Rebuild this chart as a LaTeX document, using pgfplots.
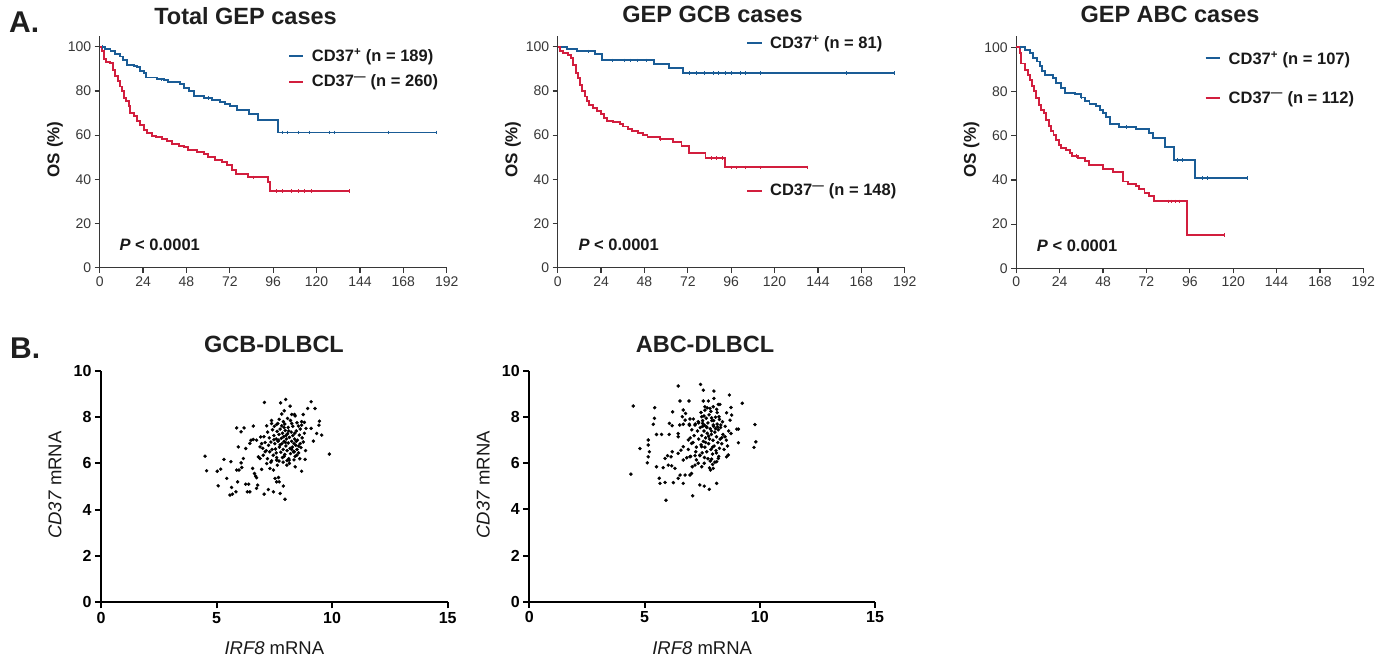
\documentclass[border=0pt]{standalone}
\usepackage{fontspec}
\setmainfont{Liberation Sans}
\usepackage{pgfplots}
\pgfplotsset{compat=1.18}
\definecolor{kmblue}{RGB}{26,92,150}
\definecolor{kmred}{RGB}{210,30,62}
\definecolor{axgray}{RGB}{55,55,55}
\pgfplotsset{
 km/.style={
  scale only axis, width=347pt, height=232pt, anchor=south west,
  xmin=0,xmax=192,ymin=0,ymax=105,
  axis lines=left, axis line style={-, line width=1.2pt, draw=axgray},
  xtick={0,24,...,192}, ytick={0,20,...,100},
  tick align=outside, major tick length=5pt,
  tick style={line width=1.2pt, draw=axgray},
  ticklabel style={font=\fontsize{14}{16}\selectfont, text=axgray},
  xticklabel style={anchor=north, text height=10pt, text depth=0pt},
  /pgf/number format/assume math mode=true,
  clip=false,
  ylabel={OS (\%)},
  ylabel style={font=\fontsize{17}{20}\selectfont\bfseries, text=black!90, at={(axis description cs:-0.129,0.51)}, anchor=center},
 },
 sc/.style={
  scale only axis, anchor=south west,
  xmin=0,xmax=15,ymin=0,ymax=10,
  axis lines=left, axis line style={-, line width=2pt, black},
  xtick={0,5,10,15}, ytick={0,2,...,10},
  tick align=outside, major tick length=6pt,
  tick style={line width=2pt, black},
  ticklabel style={font=\fontsize{16}{18}\selectfont\bfseries},
  xticklabel style={anchor=north, text height=11.5pt, text depth=0pt},
  /pgf/number format/assume math mode=true,
  clip=false,
  xlabel={\textit{IRF8} mRNA}, ylabel={\textit{CD37} mRNA},
  label style={font=\fontsize{18.5}{22}\selectfont, text=black!90},
  xlabel style={at={(axis description cs:0.5,-0.2)}, anchor=center},
  ylabel style={at={(axis description cs:-0.133,0.506)}, anchor=center},
 },
 kmline/.style={const plot, line width=1.9pt, mark=none},
 cens/.style={only marks, mark=|, mark size=1.8pt, mark options={line width=0.8pt}},
 dots/.style={only marks, mark=*, mark size=1.55pt, black},
}
\newcommand{\legfont}{\fontsize{16.5}{19}\selectfont\bfseries}
\begin{document}
\begin{tikzpicture}
\path[use as bounding box] (0,0) rectangle (1383pt,-663pt);

% ---------- A1 Total GEP ----------
\begin{axis}[km, at={(99.7pt,-267.7pt)}]
\addplot[kmline, kmblue] coordinates {(0,100)(3,99)(6,97.9)(8.7,96.7)(11.4,95.6)(12.9,94.1)(15.1,91.9)(18.8,91.4)(20.6,90.7)(22.5,89.1)(24.3,88.1)(25.8,86.1)(31.7,85.5)(35.4,85.1)(37.6,83.9)(44.6,83.1)(46.5,81.3)(49.2,80.1)(52,77.8)(57.5,76.8)(62.2,75.7)(66.8,75)(69.5,74.1)(72.3,73)(76,71.5)(82.4,69.5)(87.6,66.7)(98.7,61.2)(186.5,61.2)};
\addplot[kmline, kmred] coordinates {(0,100)(1.3,97.9)(2.6,94.6)(3.7,93.3)(5.9,92.6)(7.2,89.6)(8.7,86.6)(10.1,84.3)(11.4,82)(12.3,79.8)(13.3,76.8)(14.7,75.3)(16,73)(17,70)(18.8,68.5)(20.6,66.5)(22.5,64.4)(24.3,62.4)(26.2,60.9)(28.9,59.8)(31.3,59)(34.5,58.2)(37.2,57.2)(40,56)(43.7,55.2)(46.8,54.6)(48.7,53.1)(53.9,52.2)(57.5,51.4)(59.8,49.9)(64,48.9)(67.7,47.8)(70.5,46.6)(73.2,44.3)(75.6,42.4)(81.9,40.9)(93,38.8)(94.4,34.6)(138,34.6)};
\addplot[cens, kmblue] coordinates {(1.5,100)(34,85.1)(60,76.8)(101,61.2)(104,61.2)(110,61.2)(116,61.2)(127,61.2)(130,61.2)(160,61.2)(186.5,61.2)};
\addplot[cens, kmred] coordinates {(85,40.9)(98,34.6)(101,34.6)(106,34.6)(110,34.6)(113,34.6)(117,34.6)(138,34.6)};
\node[anchor=west, inner sep=0, font=\fontsize{16.5}{19}\selectfont\bfseries, text=black!90] at (axis cs:10.9,10.3) {\textit{P} < 0.0001};
\draw[kmblue, line width=1.9pt] (axis cs:104.9,95.8) -- (axis cs:112.7,95.8);
\draw[kmred, line width=1.9pt] (axis cs:104.9,84.2) -- (axis cs:112.7,84.2);
\node[anchor=west, inner sep=0, font=\legfont, text=black!90] at (axis cs:117.3,95.3) {CD37\textsuperscript{+} (n = 189)};
\node[anchor=west, inner sep=0, font=\legfont, text=black!90] at (axis cs:117.3,83.9) {CD37\textsuperscript{—} (n = 260)};
\end{axis}

% ---------- A2 GEP GCB ----------
\begin{axis}[km, at={(557.7pt,-267.7pt)}]
\addplot[kmline, kmblue] coordinates {(0,100)(5,98.9)(10.5,97.9)(20.6,96.7)(24.3,93.8)(53.4,92.3)(61.5,90.3)(69.4,88)(186.5,88)};
\addplot[kmline, kmred] coordinates {(0,100)(1.3,97.9)(3.1,97.1)(5.9,96.4)(7.3,94.9)(8.6,91.9)(9.9,88.1)(11,85.8)(12.3,82.8)(13.6,79.8)(15.1,77.5)(16.4,75.3)(17.5,73.8)(19.7,72.2)(21.5,71)(23.9,69.5)(25.8,67.7)(27.1,66.5)(30.7,65.8)(34.4,65)(36.3,63.9)(38.7,62.9)(40.9,62)(44.2,60.9)(47.3,59.9)(49.7,59.1)(56.5,58.2)(63.9,56.7)(68.5,54.9)(72.8,51.9)(81.8,49.6)(92.8,45.4)(138,45.4)};
\addplot[cens, kmblue] coordinates {(17,97.9)(30,93.8)(37,93.8)(40,93.8)(44,93.8)(49,93.8)(73,88)(77,88)(81,88)(86,88)(89,88)(93,88)(96,88)(101,88)(104,88)(112,88)(160,88)(186.5,88)};
\addplot[cens, kmred] coordinates {(57,58.2)(85,49.6)(88,49.6)(91,49.6)(96,45.4)(99,45.4)(104,45.4)(112,45.4)(138,45.4)};
\node[anchor=west, inner sep=0, font=\fontsize{16.5}{19}\selectfont\bfseries, text=black!90] at (axis cs:11.4,10.3) {\textit{P} < 0.0001};
\draw[kmblue, line width=1.9pt] (axis cs:104.8,101.8) -- (axis cs:112.8,101.8);
\draw[kmred, line width=1.9pt] (axis cs:104.8,34.8) -- (axis cs:112.8,34.8);
\node[anchor=west, inner sep=0, font=\legfont, text=black!90] at (axis cs:117.4,101.2) {CD37\textsuperscript{+} (n = 81)};
\node[anchor=west, inner sep=0, font=\legfont, text=black!90] at (axis cs:117.4,34.5) {CD37\textsuperscript{—} (n = 148)};
\end{axis}

% ---------- A3 GEP ABC ----------
\begin{axis}[km, at={(1016.3pt,-268.3pt)}]
\addplot[kmline, kmblue] coordinates {(0,100)(4.6,98.9)(7.4,97.4)(9.2,95.1)(11.4,93.6)(12.9,91.4)(14.4,89.1)(15.7,87.3)(20.3,86.3)(22.1,83.8)(24.9,81.4)(26.7,79.3)(32.3,78.9)(35.9,77.3)(37.8,75.8)(40.5,74.3)(44.2,73.6)(46.4,71.8)(48.2,70.3)(49.7,68.3)(51.6,65.4)(56.7,63.9)(66.3,63.1)(73.6,61.4)(75.5,59)(82.5,55.1)(87.1,49.1)(98.9,40.9)(128,40.9)};
\addplot[kmline, kmred] coordinates {(0,100)(1.9,97.4)(2.8,92.7)(4.6,89.8)(6.5,87.5)(7.7,85.3)(8.9,82.4)(9.8,80.1)(11.1,77.1)(12.5,74)(13.8,71.8)(15.1,70.3)(16.6,67.3)(18.1,64.3)(19.3,62)(20.6,60.5)(22.1,58.2)(23.4,56)(24.9,54.4)(27.3,53.7)(29.5,52.2)(30.9,50.7)(34.1,49.9)(37.8,48.4)(40.1,46.6)(47.9,45.1)(53.4,43.6)(58.9,39.3)(61.7,38.3)(66.3,37.1)(68.1,36)(70.9,34.1)(73.6,32.6)(76.4,30.3)(94.3,15.2)(115,15.2)};
\addplot[cens, kmblue] coordinates {(2,100)(36,77.3)(61,63.9)(89,49.1)(92,49.1)(103,40.9)(106,40.9)(128,40.9)};
\addplot[cens, kmred] coordinates {(33,50.7)(84,30.3)(86,30.3)(88,30.3)(90,30.3)(115,15.2)};
\node[anchor=west, inner sep=0, font=\fontsize{16.5}{19}\selectfont\bfseries, text=black!90] at (axis cs:11.3,10.1) {\textit{P} < 0.0001};
\draw[kmblue, line width=1.9pt] (axis cs:104.7,95) -- (axis cs:112.8,95);
\draw[kmred, line width=1.9pt] (axis cs:104.7,77.2) -- (axis cs:112.8,77.2);
\node[anchor=west, inner sep=0, font=\legfont, text=black!90] at (axis cs:117.4,94.5) {CD37\textsuperscript{+} (n = 107)};
\node[anchor=west, inner sep=0, font=\legfont, text=black!90] at (axis cs:117.4,76.7) {CD37\textsuperscript{—} (n = 112)};
\end{axis}

% ---------- B1 GCB-DLBCL ----------
\begin{axis}[sc, width=346.7pt, height=231.6pt, at={(101pt,-602.3pt)}]
\addplot[dots] table {
x y
7.07 8.63
7.99 8.76
7.77 8.61
8.18 8.47
9.09 8.66
8.94 8.37
9.26 8.37
7.93 8.27
7.82 8.13
8.25 8.11
8.37 8.11
8.75 8.11
8.07 7.94
7.71 7.90
7.89 7.80
8.25 7.72
8.68 7.80
8.80 7.77
9.45 7.82
9.43 7.65
5.87 7.53
6.19 7.53
6.06 7.36
6.59 7.61
7.17 7.62
7.38 7.72
7.60 7.68
8.54 7.61
8.87 7.51
9.09 7.51
9.33 7.29
9.55 7.22
9.19 6.96
9.88 6.40
4.50 6.31
4.57 5.68
5.03 5.66
5.18 5.75
5.32 6.17
5.44 5.35
5.07 5.03
5.62 6.07
5.65 4.96
5.58 4.63
5.69 4.67
5.84 4.77
5.91 5.20
5.87 5.71
5.97 5.71
6.09 5.82
6.06 6.02
6.16 6.21
5.94 6.71
6.26 6.64
6.33 4.77
6.44 4.77
6.26 5.10
6.39 5.10
6.44 6.86
6.49 7.00
6.59 7.03
6.73 7.00
6.56 5.78
6.64 5.56
6.69 5.45
6.73 5.38
6.78 5.06
6.73 4.92
6.91 7.14
6.88 6.71
6.81 6.28
6.88 6.21
7.02 6.35
7.10 6.50
7.06 4.67
7.24 4.87
7.46 4.77
7.75 4.70
7.96 4.45
7.53 5.35
7.68 5.39
7.60 5.20
7.71 5.20
7.89 5.02
7.31 5.78
7.46 5.71
7.17 5.99
7.38 6.11
7.60 6.14
7.63 5.92
6.95 5.74
8.04 5.92
8.14 6.14
8.40 5.85
8.68 5.66
8.83 6.17
8.47 6.35
8.36 6.50
7.21 7.35
7.28 7.10
7.35 6.92
7.42 7.45
7.48 7.20
7.52 6.85
7.55 6.62
7.58 7.05
7.62 7.38
7.66 6.95
7.70 7.25
7.72 6.70
7.75 7.48
7.78 6.48
7.80 7.08
7.83 6.85
7.85 7.30
7.88 6.60
7.90 7.15
7.92 6.95
7.95 6.38
7.97 7.42
8.00 6.75
8.02 7.05
8.05 6.55
8.07 7.28
8.10 6.88
8.12 6.20
8.15 7.12
8.18 6.65
8.20 6.42
8.23 7.35
8.25 6.95
8.28 6.70
8.30 7.20
8.33 6.50
8.35 6.85
8.38 7.05
8.40 6.30
8.43 6.78
8.45 7.40
8.48 6.60
8.50 7.00
8.55 6.45
8.58 7.22
8.62 6.85
8.65 6.68
8.70 7.10
8.75 6.92
8.80 7.30
8.85 6.55
7.40 6.60
7.45 6.35
7.30 6.50
7.25 6.78
7.15 6.55
7.10 6.90
7.05 7.15
7.00 6.65
6.95 6.85
7.60 6.25
7.70 6.10
7.88 6.05
8.05 6.12
7.82 7.62
7.95 7.70
8.10 7.55
8.30 7.60
8.48 7.75
8.62 7.48
7.65 7.72
7.50 7.60
8.20 7.85
8.40 8.05
7.38 7.85
7.92 6.30
8.15 6.00
8.35 6.15
8.60 6.20
7.20 6.20
7.35 6.05
8.00 7.20
7.75 6.80
8.25 6.60
7.58 6.45
8.45 6.95
8.68 7.65
7.98 6.90
7.68 7.00
8.12 7.40
7.85 6.25
8.38 7.30
8.55 6.75
7.48 7.02
7.92 7.55
};
\end{axis}

% ---------- B2 ABC-DLBCL ----------
\begin{axis}[sc, width=345.7pt, height=230.7pt, at={(529.3pt,-601.7pt)}]
\addplot[dots] table {
x y
6.46 9.35
7.43 9.42
7.55 9.17
8.01 9.13
8.68 8.96
9.24 8.60
4.51 8.48
5.44 8.41
6.54 8.70
6.93 8.70
7.55 8.70
7.77 8.70
8.01 8.81
8.27 8.55
8.75 8.42
7.62 8.45
7.84 8.38
8.13 8.34
6.22 8.23
6.68 8.31
6.78 8.16
5.43 7.95
5.38 7.69
6.64 8.02
6.76 7.87
6.97 7.92
7.12 7.92
7.48 8.02
7.91 7.97
8.23 8.02
8.56 8.19
8.71 7.87
8.78 8.09
6.08 7.73
6.20 7.63
6.53 7.66
6.68 7.69
6.94 7.69
7.19 7.66
7.33 7.80
7.52 7.73
7.69 7.58
7.98 7.66
8.17 7.58
8.31 7.66
9.00 7.48
9.07 7.48
9.79 7.68
9.83 6.93
9.75 6.69
9.07 6.89
8.75 7.29
8.49 7.15
8.35 7.11
8.63 6.36
8.56 6.28
8.20 6.21
8.13 6.07
7.91 6.18
7.98 5.78
7.86 5.71
7.59 6.00
7.48 5.85
7.33 6.00
7.19 5.92
7.07 5.85
6.97 5.49
7.04 5.56
6.76 5.49
6.54 5.49
6.46 5.35
6.68 5.13
6.25 5.16
5.89 5.17
5.67 5.13
5.64 5.35
5.52 5.85
5.81 5.81
6.03 5.92
6.18 5.89
6.32 5.78
6.15 6.28
6.00 6.33
5.89 6.21
6.20 6.50
6.46 6.43
6.58 6.57
6.68 6.14
6.83 6.24
6.97 6.28
7.19 6.33
7.40 6.33
7.22 6.50
7.48 6.72
7.04 6.86
6.90 7.01
6.68 6.72
6.46 7.15
6.46 7.29
6.07 7.25
5.74 7.25
5.52 7.25
5.16 7.01
5.16 6.79
5.21 6.50
5.16 6.28
4.80 6.64
5.12 6.02
7.40 5.06
7.59 5.01
7.81 4.87
8.13 5.13
7.09 4.59
5.93 4.40
4.41 5.53
7.42 7.55
7.48 7.20
7.52 7.85
7.55 6.95
7.58 7.40
7.60 7.65
7.62 6.70
7.65 7.10
7.68 7.95
7.70 6.50
7.72 7.30
7.75 7.75
7.78 6.85
7.80 8.10
7.82 7.05
7.85 7.50
7.88 6.60
7.90 7.25
7.92 7.85
7.95 6.40
7.97 7.00
8.00 7.60
8.02 6.75
8.05 7.35
8.08 8.00
8.10 6.55
8.12 7.15
8.15 7.70
8.18 6.90
8.20 7.45
8.22 6.30
8.25 7.90
8.28 7.05
8.30 7.55
7.45 6.80
7.50 6.45
7.35 7.05
7.30 7.40
7.25 6.70
7.20 7.70
7.15 7.20
7.10 6.90
7.60 6.25
7.75 6.20
7.85 6.10
7.95 5.95
8.05 6.05
7.82 5.80
7.70 7.55
7.90 7.40
8.00 7.85
7.88 8.25
7.62 8.30
8.15 8.20
8.35 6.85
8.40 7.25
8.45 6.60
8.50 7.60
8.38 7.80
8.55 7.00
7.65 6.90
7.95 6.70
8.12 6.45
7.78 7.18
8.08 7.50
7.52 7.60
7.40 6.35
7.25 6.15
7.05 7.45
6.98 7.10
6.90 6.60
7.00 6.30
8.25 6.65
8.60 6.75
8.65 7.40
7.72 8.40
7.98 8.45
7.58 8.05
8.20 8.55
7.45 8.20
7.35 7.75
6.95 7.65
};
\end{axis}

% ---------- titles and panel letters ----------
\node[anchor=base west, inner sep=0, font=\fontsize{30}{36}\selectfont\bfseries, text=black!88] at (9pt,-32.7pt) {A.};
\node[anchor=base west, inner sep=0, font=\fontsize{30}{36}\selectfont\bfseries, text=black!88] at (10pt,-358.3pt) {B.};
\node[anchor=base, inner sep=0, font=\fontsize{23.5}{28}\selectfont\bfseries, text=black!88] at (245.5pt,-25pt) {Total GEP cases};
\node[anchor=base, inner sep=0, font=\fontsize{23.5}{28}\selectfont\bfseries, text=black!88] at (712.5pt,-23pt) {GEP GCB cases};
\node[anchor=base, inner sep=0, font=\fontsize{23.5}{28}\selectfont\bfseries, text=black!88] at (1170pt,-22.7pt) {GEP ABC cases};
\node[anchor=base, inner sep=0, font=\fontsize{23.5}{28}\selectfont\bfseries, text=black!88] at (274pt,-352.7pt) {GCB-DLBCL};
\node[anchor=base, inner sep=0, font=\fontsize{23.5}{28}\selectfont\bfseries, text=black!88] at (705pt,-352.7pt) {ABC-DLBCL};
\end{tikzpicture}
\end{document}
